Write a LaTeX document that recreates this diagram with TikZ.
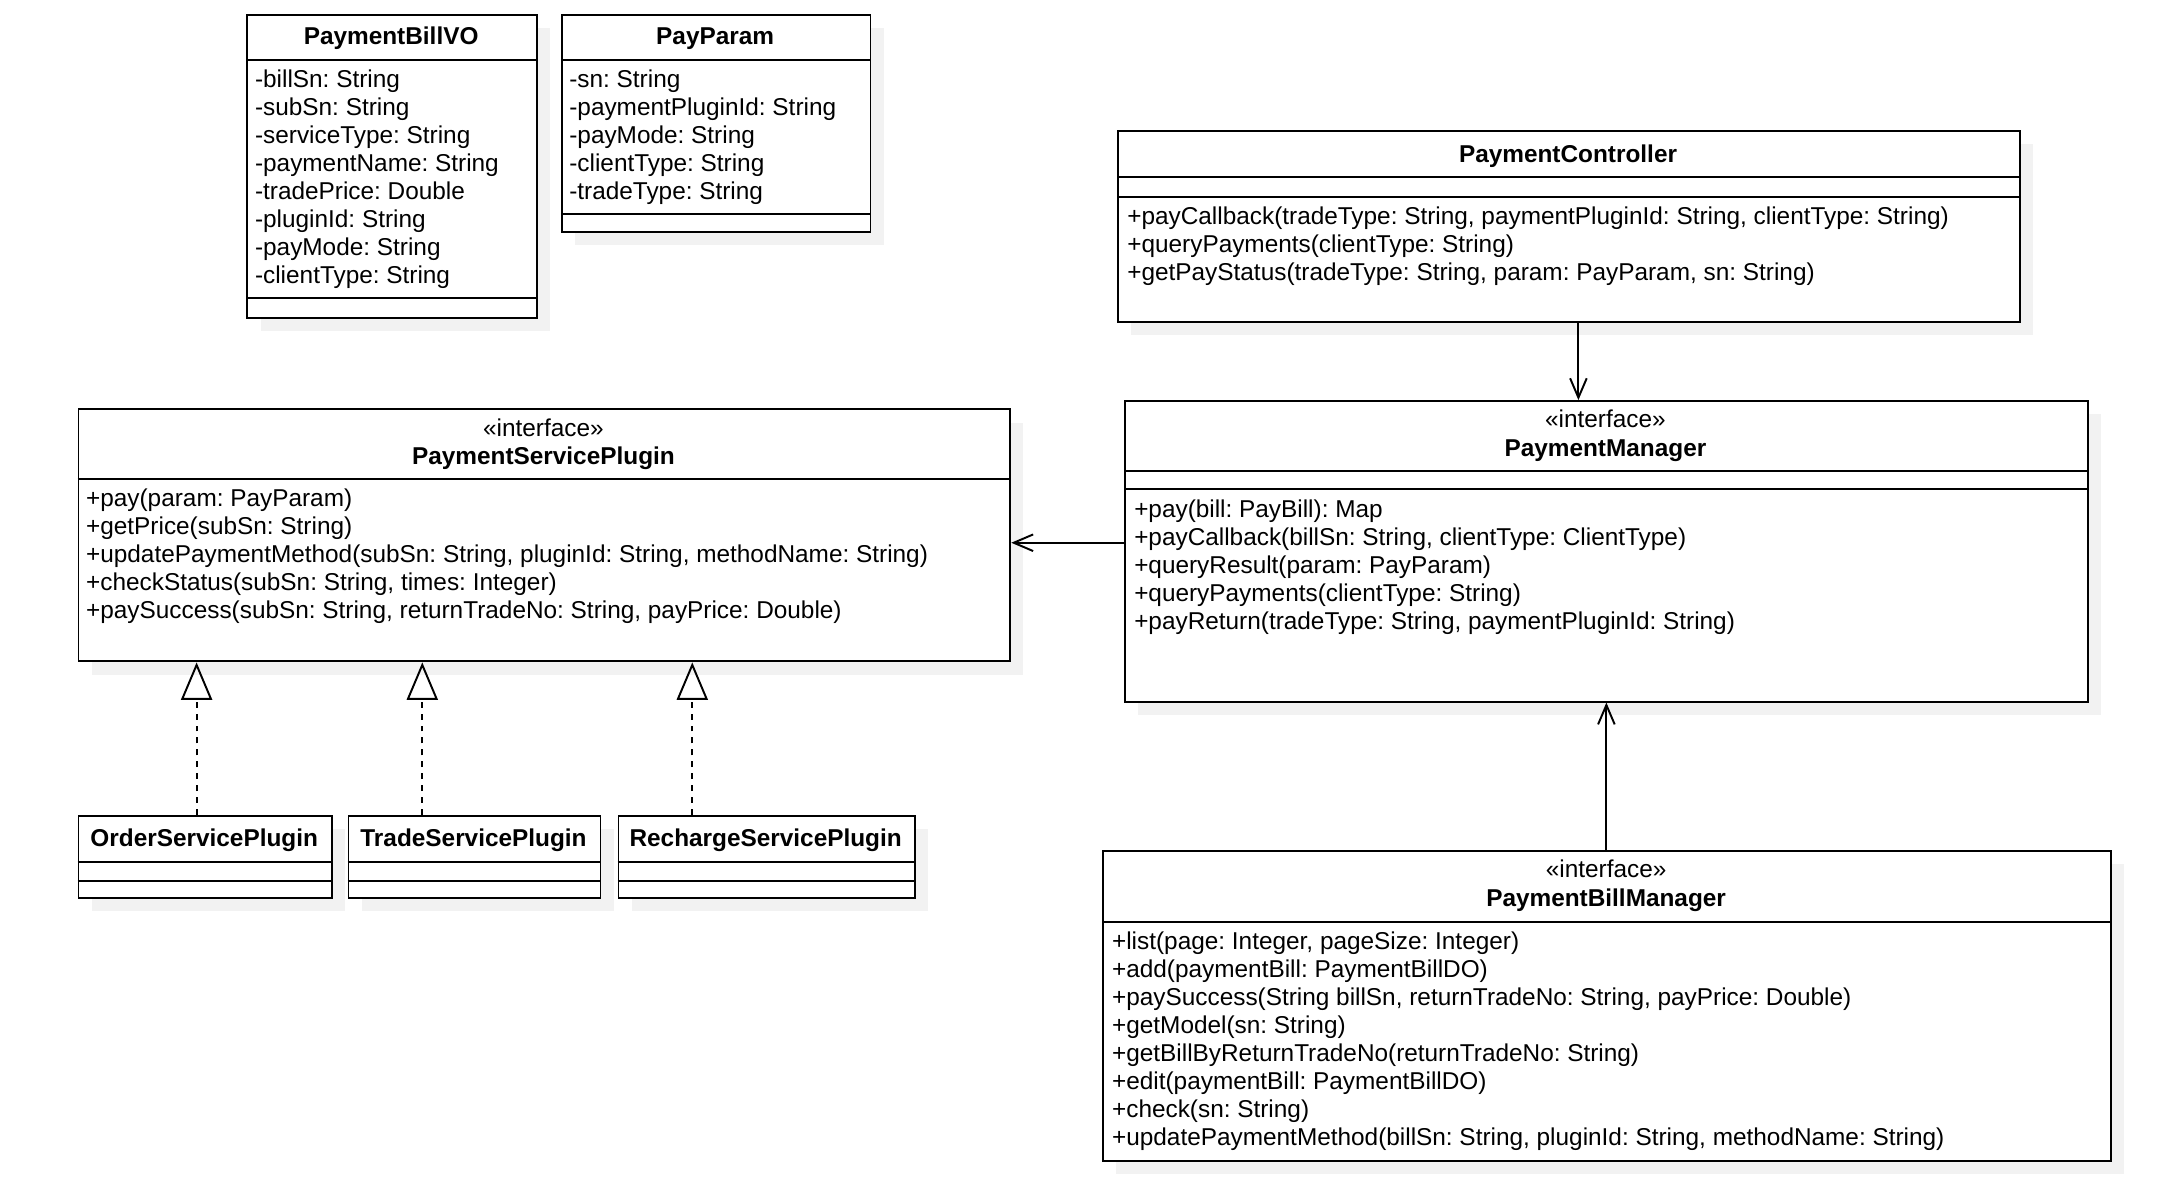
\documentclass[tikz,border=0pt]{standalone}
\usepackage{fontspec}
\setmainfont{Liberation Sans}
\frenchspacing
\usetikzlibrary{arrows.meta,shadows}
\definecolor{shadowgray}{RGB}{242,242,242}
\tikzset{
  umlbox/.style={draw=black, line width=1.4pt, fill=white, anchor=north west, inner sep=0pt,
    drop shadow={shadow xshift=9.5pt, shadow yshift=-9.5pt, fill=shadowgray, opacity=1}},
  sepline/.style={line width=1.4pt},
  mem/.style={anchor=base west, inner sep=0pt, font=\fontsize{17.6}{20.22}\selectfont},
  ttl/.style={anchor=base, inner sep=0pt, font=\fontsize{17.6}{20.22}\selectfont\bfseries},
  stereo/.style={anchor=base, inner sep=0pt, font=\fontsize{17.6}{20.22}\selectfont},
  assoc/.style={line width=1.4pt, -{Straight Barb[length=14pt,width=12pt]}},
  realize/.style={line width=1.4pt, dash pattern=on 4.3pt off 4.3pt, -{Triangle[open,length=27pt,width=22.4pt]}},
}
\begin{document}
\begin{tikzpicture}[x=1pt,y=-1pt]
\useasboundingbox (0,0) rectangle (1568,851.5);

% ---------- PaymentBillVO ----------
\node[umlbox, minimum width=209pt, minimum height=219pt] (vo) at (178,10) {};
\draw[sepline] (178,43) -- (387,43);
\draw[sepline] (178,215.5) -- (387,215.5);
\node[ttl] (votitle) at (282.5,32.2) {PaymentBillVO};
\foreach \t [count=\i] in {{-billSn: String},{-subSn: String},{-serviceType: String},{-paymentName: String},{-tradePrice: Double},{-pluginId: String},{-payMode: String},{-clientType: String}}
  \node[mem] (vo\i) at (184,{63+(\i-1)*20.22}) {\t};

% ---------- PayParam ----------
\node[umlbox, minimum width=223pt, minimum height=157pt] (pp) at (405,10) {};
\draw[sepline] (405,43) -- (628,43);
\draw[sepline] (405,154.5) -- (628,154.5);
\node[ttl] (pptitle) at (516.5,32.2) {PayParam};
\foreach \t [count=\i] in {{-sn: String},{-paymentPluginId: String},{-payMode: String},{-clientType: String},{-tradeType: String}}
  \node[mem] (pp\i) at (411,{63+(\i-1)*20.22}) {\t};

% ---------- PaymentController ----------
\node[umlbox, minimum width=651pt, minimum height=138pt] (pc) at (807,94) {};
\draw[sepline] (807,128) -- (1458,128);
\draw[sepline] (807,142) -- (1458,142);
\node[ttl] (pctitle) at (1132.5,117.2) {PaymentController};
\foreach \t [count=\i] in {{+payCallback(tradeType: String, paymentPluginId: String, clientType: String)},{+queryPayments(clientType: String)},{+getPayStatus(tradeType: String, param: PayParam, sn: String)}}
  \node[mem] (pc\i) at (814,{162+(\i-1)*20.22}) {\t};

% ---------- PaymentManager ----------
\node[umlbox, minimum width=695pt, minimum height=217pt] (pm) at (812,289) {};
\draw[sepline] (812,340) -- (1507,340);
\draw[sepline] (812,353.5) -- (1507,353.5);
\node[stereo] (pmst) at (1159.5,309) {«interface»};
\node[ttl] (pmtitle) at (1159.5,329.5) {PaymentManager};
\foreach \t [count=\i] in {{+pay(bill: PayBill): Map},{+payCallback(billSn: String, clientType: ClientType)},{+queryResult(param: PayParam)},{+queryPayments(clientType: String)},{+payReturn(tradeType: String, paymentPluginId: String)}}
  \node[mem] (pm\i) at (819,{374+(\i-1)*20.22}) {\t};

% ---------- PaymentServicePlugin ----------
\node[umlbox, minimum width=673pt, minimum height=182pt] (psp) at (56,295) {};
\draw[sepline] (56,346) -- (729,346);
\node[stereo] (pspst) at (392.5,315) {«interface»};
\node[ttl] (psptitle) at (392.5,335.5) {PaymentServicePlugin};
\foreach \t [count=\i] in {{+pay(param: PayParam)},{+getPrice(subSn: String)},{+updatePaymentMethod(subSn: String, pluginId: String, methodName: String)},{+checkStatus(subSn: String, times: Integer)},{+paySuccess(subSn: String, returnTradeNo: String, payPrice: Double)}}
  \node[mem] (psp\i) at (62,{366+(\i-1)*20.22}) {\t};

% ---------- Implementations ----------
\node[umlbox, minimum width=183pt, minimum height=59.5pt] (osp) at (56,588.5) {};
\draw[sepline] (56,622.5) -- (239,622.5);
\draw[sepline] (56,636) -- (239,636);
\node[ttl] (osptitle) at (147.5,611.2) {OrderServicePlugin};

\node[umlbox, minimum width=182pt, minimum height=59.5pt] (tsp) at (251,588.5) {};
\draw[sepline] (251,622.5) -- (433,622.5);
\draw[sepline] (251,636) -- (433,636);
\node[ttl] (tsptitle) at (342,611.2) {TradeServicePlugin};

\node[umlbox, minimum width=214pt, minimum height=59.5pt] (rsp) at (446,588.5) {};
\draw[sepline] (446,622.5) -- (660,622.5);
\draw[sepline] (446,636) -- (660,636);
\node[ttl] (rsptitle) at (553,611.2) {RechargeServicePlugin};

% ---------- PaymentBillManager ----------
\node[umlbox, minimum width=728pt, minimum height=224pt] (pbm) at (796,614) {};
\draw[sepline] (796,666) -- (1524,666);
\node[stereo] (pbmst) at (1160,634) {«interface»};
\node[ttl] (pbmtitle) at (1160,654.5) {PaymentBillManager};
\foreach \t [count=\i] in {{+list(page: Integer, pageSize: Integer)},{+add(paymentBill: PaymentBillDO)},{+paySuccess(String billSn, returnTradeNo: String, payPrice: Double)},{+getModel(sn: String)},{+getBillByReturnTradeNo(returnTradeNo: String)},{+edit(paymentBill: PaymentBillDO)},{+check(sn: String)},{+updatePaymentMethod(billSn: String, pluginId: String, methodName: String)}}
  \node[mem] (pbm\i) at (803,{686+(\i-1)*20.22}) {\t};

% ---------- Connectors ----------
\coordinate (xa) at (1140,0);
\coordinate (yb) at (0,392);
\coordinate (r1) at (142,0);
\coordinate (r2) at (305,0);
\coordinate (r3) at (500,0);
\draw[assoc] (pc.south -| xa) -- (pm.north -| xa);
\draw[assoc] (pm.west |- yb) -- (psp.east |- yb);
\draw[assoc] (pbm.north -| pm.south) -- (pm.south);
\draw[realize] (osp.north -| r1) -- (psp.south -| r1);
\draw[realize] (tsp.north -| r2) -- (psp.south -| r2);
\draw[realize] (rsp.north -| r3) -- (psp.south -| r3);
\end{tikzpicture}
\end{document}
